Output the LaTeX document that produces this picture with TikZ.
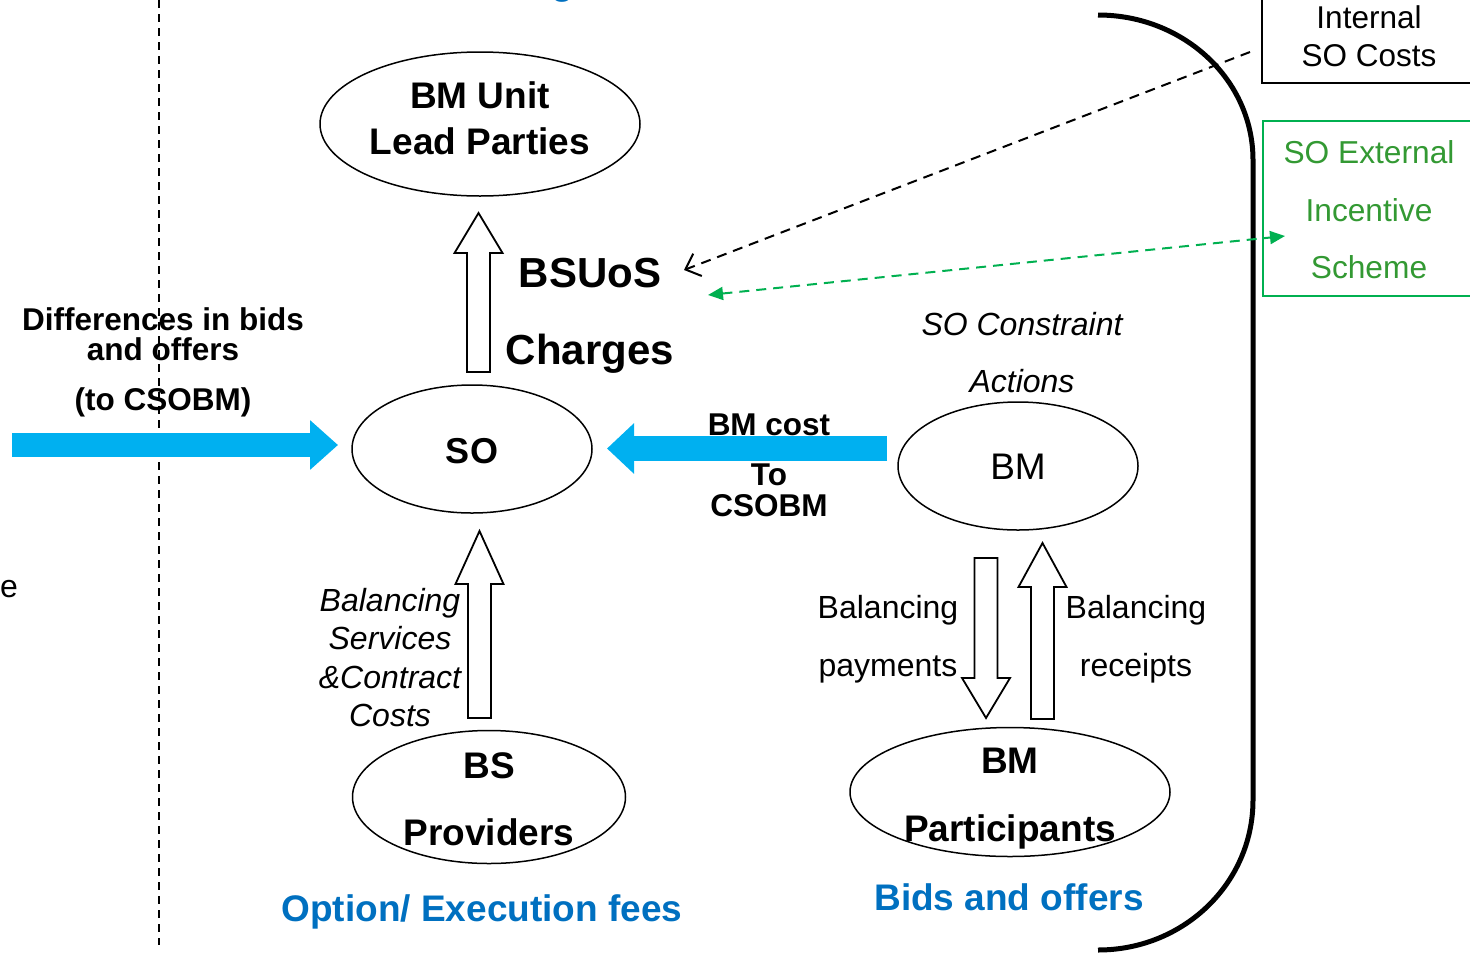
\documentclass[tikz,border=0pt]{standalone}
\usepackage{fontspec}
\setmainfont{Liberation Sans}
\usetikzlibrary{arrows.meta,calc,shapes.geometric}
\definecolor{skyblue}{HTML}{00B0F0}
\definecolor{titleblue}{HTML}{0070C0}
\definecolor{incgreen}{HTML}{00B050}
\definecolor{inctext}{HTML}{339933}
\newcommand{\sz}[1]{\fontsize{#1}{#1}\selectfont}
% hollow block arrow: start, head base, tip (all named coordinates)
\newcommand{\blockarrow}[3]{%
  \draw[blockline] let \p1=(#1), \p2=(#2), \p3=(#3) in
    (\x1-11.5pt,\y1) -- (\x1-11.5pt,\y2) -- (\x1-24pt,\y2) -- (\x3,\y3)
    -- (\x1+24pt,\y2) -- (\x1+11.5pt,\y2) -- (\x1+11.5pt,\y1) -- cycle;}
\begin{document}
\begin{tikzpicture}[x=1pt,y=-1pt,
  txt/.style={inner sep=0pt, outer sep=0pt, anchor=base},
  bold/.style={txt, font=\bfseries\sz{#1}},
  plain/.style={txt, font=\sz{#1}},
  slant/.style={txt, font=\itshape\sz{#1}},
  party/.style={draw, line width=1.5pt, shape=ellipse, inner sep=0pt},
  blockline/.style={draw, fill=white, line width=1.8pt, line join=miter},
  flow/.style={skyblue, line width=24pt, line cap=butt,
    -{Triangle[length=28pt,width=48pt]}},
  costlink/.style={dash pattern=on 10pt off 7pt, line width=2pt}]
\clip (0,0) rectangle (1470,959);
\useasboundingbox (0,0) rectangle (1470,959);

% boundary of the balancing area
\draw[dash pattern=on 8pt off 6pt, line width=2pt] (159,0) -- (159,945);
\draw[line width=5pt]
  (1098,15) .. controls (1184,15) and (1253,80) .. (1253,160)
  -- (1253,800) .. controls (1253,883) and (1184,950) .. (1098,950);

% clipped fragments at the edges
\node[bold=37, titleblue] (topfrag) at (563,-6) {g};
\node[plain=32, anchor=base east] (leftfrag) at (18,597) {e};

% parties
\node[party, minimum width=320pt, minimum height=144pt] (lead) at (480,124) {};
\node[party, minimum width=240pt, minimum height=128pt] (so) at (472,449) {};
\node[party, minimum width=240pt, minimum height=128pt] (bm) at (1018,466) {};
\node[party, minimum width=273pt, minimum height=133pt] (bsp) at (489,797) {};
\node[party, minimum width=320pt, minimum height=129pt] (bmp) at (1010,792) {};

\node[bold=37] (leadA) at (480,108) {BM Unit};
\node[bold=37] (leadB) at (480,154) {Lead Parties};
\node[bold=36] (soT) at (472,463) {SO};
\node[plain=37] (bmT) at (1018,479) {BM};
\node[bold=37] (bspA) at (489,778) {BS};
\node[bold=37] (bspB) at (489,845) {Providers};
\node[bold=37] (bmpA) at (1010,773) {BM};
\node[bold=37] (bmpB) at (1010,841) {Participants};

% cost boxes on the right
\draw[line width=1.5pt] (1262,-10) rectangle (1480,83);
\node[plain=31.5] (intA) at (1369,28) {Internal};
\node[plain=31.5] (intB) at (1369,66) {SO Costs};
\coordinate (intW) at (1250,52);
\draw[incgreen, line width=1.5pt] (1263,121) rectangle (1480,296);
\node[plain=31.7, inctext] (extA) at (1369,163) {SO External};
\node[plain=31.7, inctext] (extB) at (1369,221) {Incentive};
\node[plain=31.7, inctext] (extC) at (1369,278) {Scheme};
\coordinate (extW) at (1285,236);

% charges
\node[bold=42] (bsuos) at (590,287) {BSUoS};
\node[bold=42] (charges) at (590,364) {Charges};
\coordinate (bsuosTip) at (684,270);
\coordinate (chargesTip) at (708,295);
\draw[costlink, -{Straight Barb[length=13pt,width=24pt]}] (intW) -- (bsuosTip);
\draw[costlink, incgreen, {Triangle[length=15pt,width=13pt]}-{Triangle[length=15pt,width=13pt]}]
  (chargesTip) -- (extW);

% hollow block arrows
\coordinate (a1s) at (478.5,372); \coordinate (a1h) at (478.5,253); \coordinate (a1t) at (478.5,213);
\blockarrow{a1s}{a1h}{a1t}
\coordinate (a2s) at (479.5,718); \coordinate (a2h) at (479.5,584); \coordinate (a2t) at (479.5,531);
\blockarrow{a2s}{a2h}{a2t}
\coordinate (a3s) at (986,558); \coordinate (a3h) at (986,678); \coordinate (a3t) at (986,718);
\blockarrow{a3s}{a3h}{a3t}
\coordinate (a4s) at (1042.5,719); \coordinate (a4h) at (1042.5,587); \coordinate (a4t) at (1042.5,543);
\blockarrow{a4s}{a4h}{a4t}

% blue flows into SO
\coordinate (diffStart) at (12,445);
\coordinate (diffTip) at (338,445);
\draw[flow] (diffStart) -- (diffTip);
\coordinate (bmcStart) at (887,448.5);
\coordinate (bmcTip) at (607,448.5);
\draw[flow, line width=25pt, -{Triangle[length=27pt,width=49pt]}] (bmcStart) -- (bmcTip);

% labels
\node[bold=31.5] (diffA) at (163,330) {Differences in bids};
\node[bold=31.5] (diffB) at (163,360) {and offers};
\node[bold=31.5] (diffC) at (163,410) {(to CSOBM)};
\node[bold=31.5] (bmcA) at (769,435) {BM cost};
\node[bold=31.5] (bmcB) at (769,485) {To};
\node[bold=31.5] (bmcC) at (769,516) {CSOBM};
\node[slant=32] (scaA) at (1022,335) {SO Constraint};
\node[slant=32] (scaB) at (1022,392) {Actions};
\node[slant=32] (bscA) at (390,611) {Balancing};
\node[slant=32] (bscB) at (390,649) {Services};
\node[slant=32] (bscC) at (390,688) {\&Contract};
\node[slant=32] (bscD) at (390,726) {Costs};
\node[plain=32] (payA) at (888,618) {Balancing};
\node[plain=32] (payB) at (888,676) {payments};
\node[plain=32] (recA) at (1136,618) {Balancing};
\node[plain=32] (recB) at (1136,676) {receipts};
\node[bold=37, titleblue] (fees) at (482,921) {Option/ Execution fees};
\node[bold=37, titleblue] (bids) at (1009,910) {Bids and offers};
\end{tikzpicture}
\end{document}
